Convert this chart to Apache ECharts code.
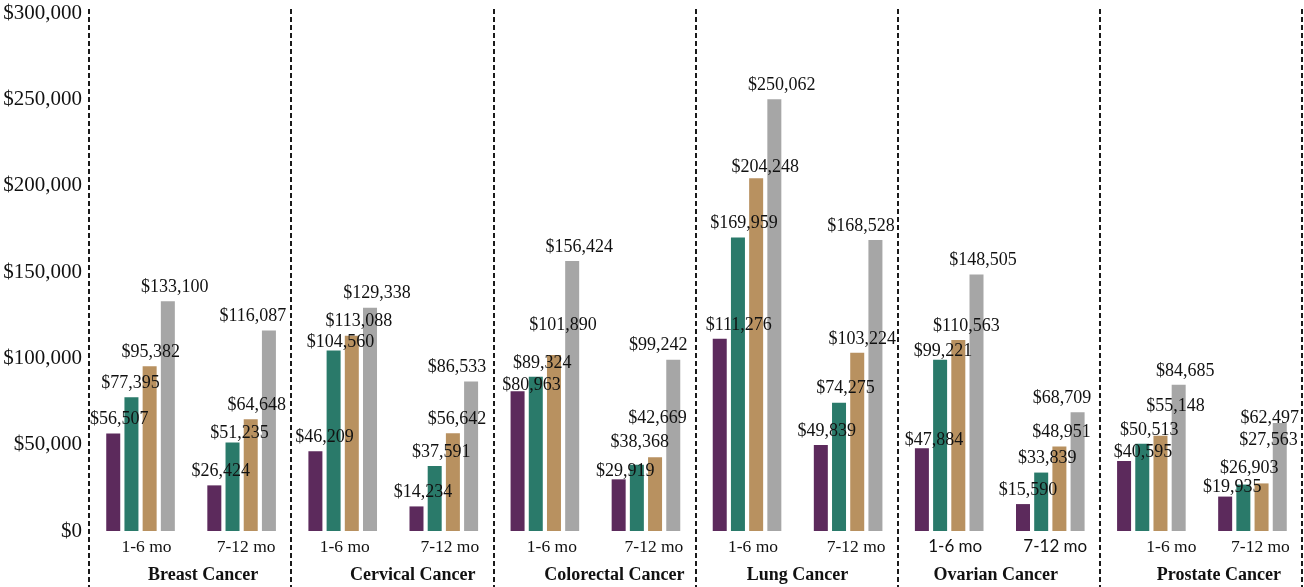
<!DOCTYPE html>
<html>
<head>
<meta charset="utf-8">
<title>Cancer cost by period</title>
<script src="https://cdn.jsdelivr.net/npm/echarts@6/dist/echarts.min.js"></script>
<style>
  html, body { margin: 0; padding: 0; background: #ffffff; }
  #chart { width: 1304px; height: 587px; }
</style>
</head>
<body>
<div id="chart"></div>
<script>
// Cancer types, each split into two follow-up periods
const cancerTypes = ['Breast Cancer', 'Cervical Cancer', 'Colorectal Cancer', 'Lung Cancer', 'Ovarian Cancer', 'Prostate Cancer'];
const periods = ['1-6 mo', '7-12 mo'];

// Costs per bar, ordered type by type (1-6 mo, 7-12 mo)
const purpleValues = [56507, 26424, 46209, 14234, 80963, 29919, 111276, 49839, 47884, 15590, 40595, 19935];
const tealValues   = [77395, 51235, 104560, 37591, 89324, 38368, 169959, 74275, 99221, 33839, 50513, 26903];
const tanValues    = [95382, 64648, 113088, 56642, 101890, 42669, 204248, 103224, 110563, 48951, 55148, 27563];
const grayValues   = [133100, 116087, 129338, 86533, 156424, 99242, 250062, 168528, 148505, 68709, 84685, 62497];

const yTicks = [0, 50000, 100000, 150000, 200000, 250000, 300000];

// Value-label nudges in px: horizontal shift and lift above the default spot
const labelDx = [
  [6, 6.5, 9, 6.5, 14, 6.5, 19, 6, 12, 5, 19, 7],
  [-1, 7, 7, 6.5, 6.5, 3, 6, 6.5, 3, 6, 7, 6],
  [1, 6, 7, 4, 9, 2.5, 9, 5, 8, 2, 15, 7],
  [7, -16, 7, -14, 7, -15, 7.5, -14.5, 6.5, -15.5, 6.5, -10]
];
const labelLift = [
  [0, 0, 0, 0, -8, -5.5, 0, 0, -6, 0, -5.5, -5],
  [0, -5, -5.5, 0, 0, 8, 0, 0, -5.5, 0, 0, 2],
  [0, 0, 0, 0, 16, 25, -3, 0, 0, 0, 16, 29],
  [0, 0, 0, 0, 0, 0, 0, 0, 0, 0, 0, -9.5]
];
// Horizontal nudges for the period labels and the cancer-type labels
const periodLabelDx = [6, 4.5, 2, 6, 7, 8, 6, 8, 6, 5, 20, 8];
const typeLabelDx = [12, 19.5, 19, 0, -4, 17];

const SERIF = '"Liberation Serif", "Times New Roman", serif';
const SANS = 'Lato, "Open Sans", "Liberation Sans", sans-serif';

const categories = [];
cancerTypes.forEach(() => periods.forEach(p => categories.push(p)));

function money(v) {
  return '$' + String(Math.round(v)).replace(/\B(?=(\d{3})+(?!\d))/g, ',');
}

// Shift a centred label by padding one side with an empty box
function padRich(prefix, shifts) {
  const rich = {};
  shifts.forEach((d, i) => { rich[prefix + i] = { width: Math.abs(d) * 2, fontSize: 1 }; });
  return rich;
}
function padText(prefix, shifts, i, token) {
  const d = shifts[i];
  if (!d) return token;
  const pad = '{' + prefix + i + '| }';
  return d > 0 ? pad + token : token + pad;
}

const seriesDefs = [
  { name: 'Purple', color: '#5C2A5C', values: purpleValues },
  { name: 'Teal',   color: '#2A7A6A', values: tealValues },
  { name: 'Tan',    color: '#B89160', values: tanValues },
  { name: 'Gray',   color: '#A6A6A6', values: grayValues }
];

const series = seriesDefs.map((s, si) => ({
  name: s.name,
  type: 'bar',
  xAxisIndex: 0,
  yAxisIndex: 0,
  barWidth: 14,
  barGap: '30%',
  itemStyle: { color: s.color },
  label: {
    show: true,
    position: 'top',
    distance: 5,
    fontFamily: SERIF,
    fontSize: 18,
    color: '#111111',
    formatter: p => money(p.value)
  },
  data: s.values.map((v, i) => ({
    value: v,
    label: { offset: [labelDx[si][i], -labelLift[si][i]] }
  }))
}));

// An empty helper series so the divider grid gets laid out
series.push({
  type: 'bar',
  xAxisIndex: 2,
  yAxisIndex: 1,
  data: cancerTypes.map(() => 0),
  silent: true,
  itemStyle: { opacity: 0 }
});

const periodRich = Object.assign(padRich('q', periodLabelDx), {
  serif: { fontFamily: SERIF, fontSize: 17.5, color: '#111111' },
  sans: { fontFamily: SANS, fontSize: 17, color: '#111111' }
});
const typeRich = Object.assign(padRich('g', typeLabelDx), {
  t: { fontFamily: SERIF, fontWeight: 'bold', fontSize: 18, color: '#111111' }
});

const chart = echarts.init(document.getElementById('chart'), null, { renderer: 'canvas' });

chart.setOption({
  backgroundColor: '#ffffff',
  animation: false,
  grid: [
    { left: 90, right: 1, top: 13, bottom: 56, containLabel: false },
    { left: 89, right: 2, top: 9, bottom: 0, containLabel: false }
  ],
  xAxis: [
    {
      type: 'category',
      gridIndex: 0,
      data: categories,
      axisLine: { show: false },
      axisTick: { show: false },
      axisLabel: {
        interval: 0,
        margin: 7,
        formatter: (v, i) => {
          const style = (i === 8 || i === 9) ? 'sans' : 'serif';
          return padText('q', periodLabelDx, i, '{' + style + '|' + v + '}');
        },
        rich: periodRich
      }
    },
    {
      type: 'category',
      gridIndex: 0,
      position: 'bottom',
      data: cancerTypes,
      axisLine: { show: false },
      axisTick: { show: false },
      axisLabel: {
        interval: 0,
        margin: 35,
        formatter: (v, i) => padText('g', typeLabelDx, i, '{t|' + v + '}'),
        rich: typeRich
      }
    },
    {
      type: 'category',
      gridIndex: 1,
      data: cancerTypes,
      axisLine: { show: false },
      axisTick: { show: false },
      axisLabel: { show: false },
      splitLine: {
        show: true,
        interval: 0,
        lineStyle: { color: '#1a1a1a', width: 2, type: [5, 3] }
      }
    }
  ],
  yAxis: [
    {
      type: 'value',
      gridIndex: 0,
      min: yTicks[0],
      max: yTicks[yTicks.length - 1],
      interval: yTicks[1] - yTicks[0],
      axisLine: { show: false },
      axisTick: { show: false },
      splitLine: { show: false },
      axisLabel: {
        margin: 8,
        fontFamily: SERIF,
        fontSize: 21,
        color: '#111111',
        formatter: v => money(v)
      }
    },
    {
      type: 'value',
      gridIndex: 1,
      min: 0,
      max: 1,
      show: false
    }
  ],
  series: series
});
</script>
</body>
</html>
